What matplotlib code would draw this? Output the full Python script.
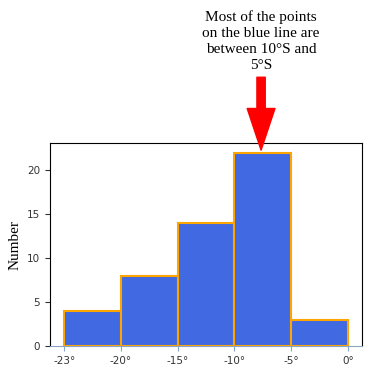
import numpy as np
import matplotlib
matplotlib.use("Agg")
import matplotlib.pyplot as plt

# counts per latitude band
bin_labels = ["-23°", "-20°", "-15°", "-10°", "-5°", "0°"]
counts = [4, 8, 14, 22, 3]

note = "Most of the points\non the blue line are\nbetween 10°S and\n5°S"

fig = plt.figure(figsize=(3.65, 3.67), dpi=100)
ax = fig.add_axes([0.137, 0.057, 0.855, 0.553])

x = np.arange(len(counts))
ax.bar(x, counts, width=1.0, align="edge", color="royalblue",
       edgecolor="orange", linewidth=1.5)

ax.set_xticks(np.arange(len(bin_labels)))
ax.set_xticklabels(bin_labels, fontsize=7.5)
ax.set_yticks([0, 5, 10, 15, 20])
ax.tick_params(axis="y", labelsize=7.5, colors="#333333")
ax.tick_params(axis="x", colors="#8aa4c4", labelcolor="#333333")
ax.spines["bottom"].set_color("#8aa4c4")
ax.set_ylabel("Number", family="Liberation Serif", fontsize=11)

ax.text(3.47, 31.15, note, ha="center", va="bottom", linespacing=1.3,
        family="Liberation Serif", fontsize=11, clip_on=False)
ax.annotate("", xy=(3.47, 22.3), xytext=(3.47, 30.6),
            annotation_clip=False,
            arrowprops=dict(facecolor="red", edgecolor="red", width=6,
                            headwidth=20, headlength=30, shrink=0.0))

fig.savefig("out.png", dpi=100)
